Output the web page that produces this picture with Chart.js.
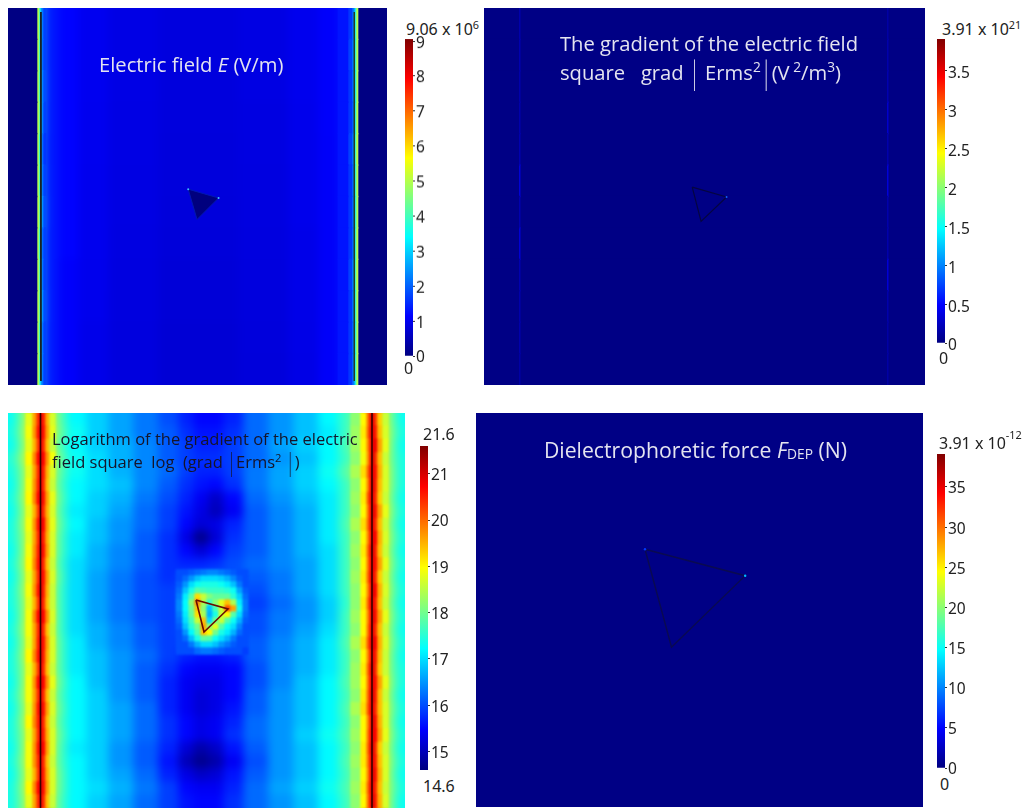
<!DOCTYPE html>
<html><head><meta charset="utf-8">
<script src="https://cdn.jsdelivr.net/npm/chart.js@4"></script>
<style>
html,body{margin:0;padding:0;background:#fff;width:1029px;height:808px;overflow:hidden}
.p{position:absolute;overflow:hidden}
.p canvas{position:absolute}
canvas.cb{position:absolute}
.t{position:absolute;white-space:pre;font-family:"Open Sans",sans-serif;line-height:1}
.w{color:#e4e4f0;font-size:20.2px}
.k{color:#15152a;font-size:16.5px}
.n{color:#222;font-family:"Noto Sans",sans-serif;font-size:16px}
sup{font-size:.68em;line-height:0;vertical-align:.55em}
sub{font-size:.65em;line-height:0;vertical-align:-.1em}
.hi{vertical-align:.95em}
.bar{display:inline-block;transform:scaleY(1.5);font-weight:300}
</style></head><body>
<div class="p" id="pA" style="left:8px;top:8px;width:379px;height:377px;background:#00008a"></div>
<div class="p" id="pB" style="left:484px;top:8px;width:441px;height:377px;background:#00008a"></div>
<div class="p" id="pC" style="left:8px;top:413px;width:397px;height:395px;background:#0aa0ff"></div>
<div class="p" id="pD" style="left:476px;top:413px;width:447px;height:394px;background:#00008a"></div>

<div class="t w" style="left:99px;top:54px">Electric field <i>E</i> (V/m)</div>
<div class="t w" style="left:560px;top:33px">The gradient of the electric field</div>
<div class="t w" style="left:560px;top:62px">square   grad <span class="bar">|</span> Erms<sup>2</sup><span class="bar">|</span>(V<sup> 2</sup>/m<sup>3</sup>)</div>
<div class="t k" style="left:52px;top:431px">Logarithm of the gradient of the electric</div>
<div class="t k" style="left:52px;top:454px">field square  log  (grad <span class="bar">|</span>Erms<sup>2</sup> <span class="bar">|</span>)</div>
<div class="t w" style="left:544px;top:439px;font-size:21.2px">Dielectrophoretic force <i>F</i><sub>DEP</sub> (N)</div>

<div class="t n" style="left:406px;top:21px">9.06 x 10<sup>6</sup></div>
<div class="t n" style="left:404px;top:360px">0</div>
<div class="t n" style="left:942px;top:21px">3.91 x 10<sup>21</sup></div>
<div class="t n" style="left:939px;top:350px">0</div>
<div class="t n" style="left:423px;top:426px">21.6</div>
<div class="t n" style="left:423px;top:778px">14.6</div>
<div class="t n" style="left:939px;top:435px">3.91 x 10<sup class="hi">-12</sup></div>
<div class="t n" style="left:940px;top:776px">0</div>

<script>
// ---------- Panel A: electric field E (units of 10^6 V/m)
const E_MAX = 9.06;
const E_TICKS = [0,1,2,3,4,5,6,7,8,9];
const E_EDGES = [-14,29,30,31,32,33,35,38,50,70,100,150,230,280,310,330,340,344,346,347,348,349,350,393];
const E_GRID = [
[.03,5,4.9,3.7,2.9,2.2,1.7,1.35,1.15,1.0,.9,.84,.88,.98,1.1,1.3,1.6,2.2,2.9,3.9,5.0,5,.03],
[.03,5,4.8,3.6,2.8,2.1,1.7,1.35,1.15,1.0,.9,.84,.88,.98,1.1,1.3,1.7,2.3,3.0,4.0,4.9,5,.03],
[.03,5,4.7,3.7,3.0,2.3,1.8,1.35,1.15,1.0,.9,.83,.88,.98,1.1,1.3,1.6,2.2,2.8,3.8,4.8,5,.03],
[.03,5,4.9,3.9,3.1,2.3,1.7,1.35,1.15,.99,.89,.83,.87,.96,1.1,1.3,1.6,2.1,2.9,3.9,5.0,5,.03],
[.03,5,4.7,3.5,2.8,2.1,1.6,1.35,1.15,.99,.89,.82,.87,.96,1.08,1.3,1.7,2.3,3.1,4.1,5.1,5,.03],
[.03,5,4.8,3.7,2.9,2.2,1.7,1.35,1.15,.98,.88,.82,.86,.96,1.08,1.3,1.6,2.2,3.0,4.0,4.9,5,.03],
[.03,5,5.0,3.9,3.2,2.4,1.8,1.35,1.15,.98,.88,.81,.86,.96,1.08,1.3,1.6,2.2,2.9,3.9,4.8,5,.03],
[.03,5,4.7,3.6,2.8,2.1,1.7,1.35,1.15,.98,.87,.80,.85,.94,1.08,1.3,1.6,2.2,2.9,4.0,5.0,5,.03],
[.03,5,4.8,3.8,3.0,2.2,1.7,1.35,1.1,.97,.86,.79,.84,.94,1.08,1.3,1.7,2.4,3.1,4.2,5.1,5,.03],
[.03,5,4.9,3.9,3.2,2.4,1.8,1.35,1.1,.97,.85,.78,.83,.93,1.08,1.3,1.6,2.3,3.0,4.0,4.9,5,.03],
[.03,5,4.7,3.6,2.9,2.2,1.7,1.35,1.1,.95,.84,.76,.82,.92,1.08,1.3,1.6,2.2,2.9,3.9,4.8,5,.03],
[.03,5,4.8,3.7,2.9,2.2,1.7,1.35,1.1,.95,.84,.76,.81,.91,1.08,1.3,1.6,2.2,2.9,3.9,4.9,5,.03]
];
const E_TRIANGLE = [{x:180,y:181},{x:211,y:190},{x:189,y:212},{x:180,y:181}];
const E_SPOTS = [{x:180,y:181},{x:211,y:190}];
const E_WALLS = [[{x:29.5,y:0},{x:29.5,y:377}],[{x:349.7,y:0},{x:349.7,y:377}]];

// ---------- Panel B: gradient of E^2 (units of 10^21 V^2/m^3)
const G_MAX = 3.91;
const G_TICKS = [0,.5,1,1.5,2,2.5,3,3.5];
const G_EDGES = [0,35,36,403,404,441];
const G_GRID = [
[.02,.24,.02,.2,.02],[.02,.26,.02,.24,.02],[.02,.24,.02,.26,.02],[.02,.24,.02,.42,.02],
[.02,.26,.02,.24,.02],[.02,.5,.02,.5,.02],[.02,.26,.02,.24,.02],[.02,.48,.02,.24,.02],
[.02,.26,.02,.48,.02],[.02,.24,.02,.24,.02],[.02,.24,.02,.2,.02],[.02,.2,.02,.2,.02]
];
const G_TRIANGLE = [{x:208,y:179},{x:243,y:189},{x:217,y:214},{x:208,y:179}];
const G_SPOTS = [{x:243,y:189}];

// ---------- Panel C: log10 of gradient of E^2
const L_MIN = 14.6, L_MAX = 21.6;
const L_TICKS = [15,16,17,18,19,20,21];
const L_EDGES = [-14,9,18,24,28,31,34,37,41,47,58,78,100,125,150,170,185,200,215,235,260,285,310,330,343,352,358,361,363,366,369,374,380,388,411];
const L_GRID = [
[17.3,18.0,18.8,19.6,20.4,20.9,20.5,19.5,18.7,17.8,17.2,16.9,16.6,16.3,16.0,15.7,15.5,15.5,15.7,16.2,16.5,16.8,17.2,17.6,18.2,19.0,19.9,20.7,20.9,20.3,19.3,18.6,17.9,17.3],
[17.4,18.1,18.9,19.7,20.6,21.0,20.6,19.6,18.8,17.9,17.3,16.9,16.6,16.3,16.1,15.8,15.6,15.6,15.8,16.2,16.5,16.8,17.1,17.6,18.3,19.1,20.0,20.8,20.9,20.5,19.4,18.7,18.0,17.4],
[17.3,18.0,18.8,19.5,20.3,20.9,20.4,19.4,18.6,17.7,17.2,16.9,16.7,16.4,16.1,15.9,15.7,15.7,15.9,16.2,16.6,16.9,17.2,17.7,18.3,19.0,19.8,20.6,20.9,20.8,19.6,18.8,17.9,17.3],
[17.5,18.2,19.0,19.8,20.7,21.0,20.7,19.7,18.9,17.9,17.3,17.0,16.7,16.4,16.1,15.9,15.8,15.8,15.9,16.2,16.5,16.8,17.2,17.6,18.2,18.9,19.7,20.6,21.0,20.4,19.4,18.6,17.9,17.4],
[17.4,18.0,18.8,19.6,20.4,20.9,20.5,19.5,18.7,17.8,17.3,17.0,16.7,16.4,16.2,15.9,15.7,15.7,15.9,16.3,16.6,16.9,17.3,17.8,18.4,19.2,20.0,20.8,20.9,20.6,19.5,18.7,18.0,17.4],
[17.3,18.0,18.9,19.7,20.5,20.9,20.4,19.4,18.6,17.7,17.2,17.0,16.8,16.4,16.1,15.8,15.6,15.5,15.8,16.3,16.6,16.9,17.2,17.6,18.2,19.0,19.8,20.7,21.0,20.5,19.4,18.7,18.0,17.4],
[17.4,18.1,19.0,19.8,20.7,21.0,20.6,19.6,18.8,17.8,17.2,16.9,16.7,16.3,16.0,15.7,15.4,15.1,15.5,16.2,16.5,16.8,17.1,17.6,18.3,19.1,20.1,20.8,20.9,20.4,19.3,18.6,17.9,17.3],
[17.3,18.0,18.8,19.5,20.3,20.9,20.4,19.5,18.7,17.7,17.1,16.9,16.6,16.2,15.9,15.6,15.3,15.0,15.4,16.1,16.4,16.7,17.1,17.6,18.2,19.0,19.9,20.7,21.0,20.6,19.6,18.8,18.0,17.4],
[17.4,18.1,18.9,19.7,20.6,21.0,20.7,19.6,18.8,17.8,17.2,16.8,16.5,16.2,15.9,15.5,15.2,15.3,15.7,16.1,16.4,16.7,17.1,17.7,18.4,19.2,20.0,20.8,20.9,20.4,19.4,18.6,17.9,17.3],
[17.4,18.0,18.8,19.6,20.4,20.9,20.5,19.5,18.7,17.7,17.1,16.8,16.5,16.1,15.8,15.3,14.7,15.2,15.8,16.1,16.4,16.7,17.1,17.6,18.2,19.0,19.8,20.6,20.9,20.7,19.5,18.7,18.0,17.4],
[17.3,18.0,18.9,19.7,20.5,21.0,20.6,19.6,18.7,17.7,17.1,16.7,16.4,16.1,15.8,15.5,15.2,15.5,15.9,16.1,16.4,16.7,17.0,17.6,18.3,19.1,20.0,20.8,21.0,20.5,19.4,18.6,17.9,17.3],
[17.4,18.1,19.0,19.8,20.6,20.9,20.4,19.4,18.6,17.6,17.0,16.7,16.4,16.1,15.8,15.7,15.7,15.8,16.0,16.2,16.4,16.6,17.0,17.6,18.2,19.0,19.9,20.7,20.9,20.6,19.6,18.8,18.0,17.4],
[17.3,18.0,18.8,19.6,20.4,20.9,20.6,19.6,18.7,17.7,17.0,16.6,16.3,16.0,15.8,16.0,16.1,16.1,16.0,16.1,16.3,16.6,17.0,17.6,18.3,19.1,20.0,20.8,20.9,20.4,19.3,18.6,17.9,17.3],
[17.4,18.1,18.9,19.7,20.6,21.0,20.5,19.5,18.6,17.6,17.0,16.6,16.3,16.0,15.9,16.0,16.2,16.2,16.1,16.0,16.3,16.6,17.0,17.6,18.2,19.0,19.8,20.6,21.0,20.7,19.5,18.7,18.0,17.4],
[17.4,18.0,18.8,19.5,20.3,20.9,20.4,19.4,18.6,17.6,17.0,16.6,16.3,16.0,15.9,16.0,16.2,16.2,16.1,15.9,16.2,16.5,16.9,17.5,18.2,19.1,20.0,20.8,20.9,20.5,19.4,18.6,17.9,17.3],
[17.3,18.0,18.9,19.8,20.7,21.0,20.7,19.7,18.7,17.6,17.0,16.6,16.3,16.0,15.9,16.0,16.2,16.2,16.1,16.0,16.3,16.5,16.9,17.6,18.3,19.0,19.8,20.6,21.0,20.6,19.6,18.8,18.0,17.4],
[17.4,18.1,18.9,19.6,20.4,20.9,20.4,19.4,18.6,17.6,17.0,16.7,16.4,16.1,15.9,16.0,16.1,16.1,16.0,16.0,16.3,16.6,17.0,17.6,18.2,19.0,19.9,20.7,20.9,20.4,19.4,18.6,17.9,17.3],
[17.3,18.0,18.8,19.6,20.5,20.9,20.6,19.6,18.7,17.7,17.1,16.7,16.4,16.1,15.9,15.9,16.0,16.0,16.0,16.1,16.4,16.7,17.1,17.7,18.4,19.2,20.1,20.8,21.0,20.7,19.5,18.7,18.0,17.4],
[17.4,18.1,19.0,19.8,20.6,21.0,20.5,19.5,18.7,17.7,17.1,16.8,16.5,16.2,15.9,15.7,15.6,15.6,15.7,16.1,16.4,16.7,17.1,17.6,18.2,19.0,19.8,20.6,20.9,20.5,19.4,18.6,17.9,17.3],
[17.4,18.0,18.8,19.5,20.3,20.9,20.4,19.4,18.6,17.7,17.1,16.8,16.5,16.1,15.8,15.5,15.4,15.4,15.5,16.0,16.4,16.7,17.1,17.6,18.3,19.1,20.0,20.8,21.0,20.4,19.3,18.6,17.9,17.4],
[17.3,18.0,18.9,19.7,20.7,21.0,20.7,19.7,18.8,17.8,17.2,16.8,16.5,16.1,15.7,15.4,15.3,15.3,15.5,16.0,16.4,16.8,17.2,17.7,18.3,19.0,19.9,20.7,20.9,20.6,19.6,18.8,18.0,17.4],
[17.4,18.1,18.9,19.6,20.4,20.9,20.4,19.4,18.6,17.7,17.2,16.9,16.5,16.1,15.7,15.4,15.2,15.3,15.5,16.1,16.5,16.8,17.2,17.6,18.2,19.1,20.0,20.8,21.0,20.5,19.4,18.6,17.9,17.3],
[17.3,18.0,18.8,19.7,20.6,21.0,20.6,19.6,18.7,17.8,17.2,16.9,16.6,16.2,15.7,15.4,15.2,15.3,15.6,16.1,16.5,16.8,17.2,17.7,18.4,19.2,20.1,20.8,20.9,20.4,19.4,18.7,18.0,17.4],
[17.4,18.1,19.0,19.8,20.5,20.9,20.4,19.4,18.6,17.7,17.2,16.9,16.6,16.2,15.8,15.5,15.3,15.4,15.7,16.2,16.5,16.8,17.2,17.6,18.2,19.0,19.8,20.6,21.0,20.6,19.5,18.7,17.9,17.3],
[17.4,18.0,18.8,19.6,20.4,20.9,20.5,19.5,18.7,17.8,17.2,16.9,16.6,16.2,15.8,15.5,15.3,15.4,15.8,16.2,16.5,16.9,17.3,17.7,18.3,19.0,19.9,20.7,20.9,20.7,19.6,18.8,18.0,17.4],
[17.3,18.0,18.9,19.7,20.6,21.0,20.7,19.6,18.7,17.7,17.1,16.9,16.5,16.1,15.7,15.2,14.9,15.1,15.6,16.1,16.5,16.8,17.2,17.6,18.2,19.1,20.0,20.8,21.0,20.4,19.3,18.6,17.9,17.3],
[17.4,18.1,18.9,19.7,20.4,20.9,20.4,19.4,18.6,17.7,17.2,16.9,16.5,16.1,15.6,15.0,14.7,14.9,15.4,16.0,16.5,16.8,17.2,17.7,18.3,19.1,19.9,20.7,20.9,20.5,19.4,18.7,18.0,17.4],
[17.3,18.0,18.8,19.5,20.3,20.9,20.5,19.5,18.7,17.8,17.2,16.9,16.6,16.2,15.7,15.3,15.1,15.2,15.6,16.1,16.5,16.8,17.2,17.6,18.2,19.0,19.8,20.7,21.0,20.6,19.5,18.7,17.9,17.3],
[17.4,18.1,19.0,19.8,20.7,21.0,20.6,19.6,18.7,17.8,17.2,17.0,16.7,16.3,15.9,15.5,15.4,15.4,15.7,16.2,16.6,16.9,17.3,17.7,18.3,19.1,20.0,20.8,20.9,20.4,19.4,18.6,18.0,17.4],
[17.4,18.0,18.8,19.6,20.4,20.9,20.4,19.4,18.6,17.7,17.2,16.9,16.6,16.2,15.9,15.6,15.5,15.5,15.8,16.2,16.5,16.8,17.2,17.6,18.2,19.0,19.9,20.7,21.0,20.5,19.5,18.7,17.9,17.3]
];
// finer cells around the triangle
const L_HALO_EDGES = [168,174,180,186,192,198,204,210,216,222,228,234,240];
const L_HALO_TOP = 157;
const L_HALO_ROW = 6;
const L_HALO = [
[16.0,16.0,16.1,16.2,16.3,16.4,16.4,16.3,16.2,16.1,16.0,16.0],
[16.0,16.2,16.5,16.8,17.0,17.0,17.0,16.9,16.7,16.4,16.1,16.0],
[16.1,16.5,17.0,17.3,17.4,17.4,17.4,17.3,17.1,16.8,16.3,16.0],
[16.2,16.8,17.4,17.8,17.7,17.6,17.6,17.6,17.5,17.3,16.6,16.1],
[16.3,17.1,17.8,19.2,18.6,18.1,17.9,17.9,17.9,17.5,16.9,16.2],
[16.4,17.2,18.2,19.8,18.4,17.6,18.2,18.8,19.4,18.4,17.1,16.3],
[16.4,17.2,18.0,19.4,18.2,16.8,17.7,18.6,20.2,19.6,17.3,16.3],
[16.3,17.1,17.9,19.2,18.4,16.7,17.4,18.6,19.0,17.8,17.0,16.2],
[16.2,17.0,17.7,18.6,19.4,17.0,18.0,18.6,17.8,17.3,16.7,16.1],
[16.1,16.8,17.5,18.0,19.6,18.2,18.8,17.8,17.3,17.0,16.4,16.0],
[16.0,16.5,17.2,17.8,19.4,19.0,18.0,17.4,17.1,16.7,16.2,16.0],
[16.0,16.2,16.8,17.4,17.9,17.8,17.3,17.0,16.7,16.3,16.0,16.0],
[16.0,16.0,16.3,16.7,17.0,17.0,16.8,16.5,16.3,16.1,16.0,16.0],
[16.0,16.0,16.0,16.2,16.3,16.3,16.2,16.1,16.0,16.0,16.0,15.9]
];
const L_TRIANGLE = [{x:188,y:187},{x:220,y:196},{x:196,y:219},{x:188,y:187}];
const L_WALLS = [[{x:32.5,y:0},{x:32.5,y:395}],[{x:364,y:0},{x:364,y:395}]];

// ---------- Panel D: dielectrophoretic force (units of 10^-13 N)
const F_MAX = 39.1;
const F_TICKS = [0,5,10,15,20,25,30,35];
const F_EDGES = [0,447];
const F_GRID = [[.2]];
const F_TRIANGLE = [{x:168,y:135},{x:270,y:162},{x:195,y:235},{x:168,y:135}];
const F_SPOTS = [{x:168,y:135,v:7},{x:270,y:162,v:12}];

Chart.defaults.animation = false;
Chart.defaults.responsive = false;
Chart.defaults.plugins.legend.display = false;
Chart.defaults.plugins.tooltip.enabled = false;

function jet(t){
  const c = v => Math.round(255*Math.max(0,Math.min(1,v)));
  return `rgb(${c(1.5-Math.abs(4*t-3))},${c(1.5-Math.abs(4*t-2))},${c(1.5-Math.abs(4*t-1))})`;
}
function gridDatasets(edges,grid,top,rowH,lo,hi,order){
  const out=[];
  for(let j=0;j<edges.length-1;j++){
    out.push({
      type:'bar',indexAxis:'y',order,grouped:false,
      barThickness:rowH+0.7,categoryPercentage:1,barPercentage:1,
      data:grid.map((r,i)=>({x:[edges[j],edges[j+1]],y:top+(i+0.5)*rowH})),
      backgroundColor:grid.map(r=>jet((r[j]-lo)/(hi-lo)))
    });
  }
  return out;
}
// repeats the first and last rows past the clipped panel edge so a blur does not fade there
function padded(grid){return [grid[0],...grid,grid[grid.length-1]];}
function subset(edges,grid,a,b){
  return {edges:edges.slice(a,b+1),grid:grid.map(r=>r.slice(a,b))};
}
function area(parent,w,h,blur,ext){
  const c=document.createElement('canvas');
  const W=w+2*ext,H=h+2*ext;
  c.width=W;c.height=H;
  c.style.cssText=`left:${-ext}px;top:${-ext}px;width:${W}px;height:${H}px;`+(blur?`filter:blur(${blur}px);`:'');
  document.getElementById(parent).appendChild(c);
  return c;
}
function scales(w,h,ext){
  return {
    x:{type:'linear',min:-ext,max:w+ext,display:false,offset:false},
    y:{type:'linear',min:-ext,max:h+ext,reverse:true,display:false,offset:false}
  };
}
function heat(parent,w,h,blur,ext,datasets){
  new Chart(area(parent,w,h,blur,ext),{
    type:'bar',data:{datasets},
    options:{indexAxis:'y',maintainAspectRatio:false,layout:{padding:0},scales:scales(w,h,ext)}
  });
}
function overlay(parent,w,h,datasets){
  new Chart(area(parent,w,h,0,0),{
    type:'scatter',data:{datasets},
    options:{maintainAspectRatio:false,layout:{padding:0},scales:scales(w,h,0)}
  });
}
function line(points,color,width,fill){
  return {showLine:true,data:points,borderColor:color,borderWidth:width,pointRadius:0,fill:fill?'shape':false,backgroundColor:fill||'transparent',tension:0};
}
function spots(points,color,r){
  return {data:points,backgroundColor:color,borderWidth:0,pointRadius:r};
}
function colorbar(left,top,bottom,lo,hi,ticks,off){
  const pad=14,cw=70,bw=8;
  const c=document.createElement('canvas');
  const h=bottom-top+2*pad;
  c.width=cw;c.height=h;c.className='cb';
  c.style.cssText=`left:${left}px;top:${top-pad}px;width:${cw}px;height:${h}px;position:absolute`;
  document.body.appendChild(c);
  new Chart(c,{
    type:'bar',
    data:{labels:['scale'],datasets:[{
      data:[[lo,hi]],categoryPercentage:1,barPercentage:1,
      backgroundColor(ctx){
        const ch=ctx.chart,s=ch.scales.y;
        if(!s||!ch.chartArea)return jet(0);
        const g=ch.ctx.createLinearGradient(0,s.getPixelForValue(lo),0,s.getPixelForValue(hi));
        [0,.125,.375,.625,.875,1].forEach(p=>g.addColorStop(p,jet(p)));
        return g;
      }
    }]},
    options:{
      maintainAspectRatio:false,layout:{padding:{top:pad,bottom:pad,left:0,right:0}},
      scales:{
        x:{display:false},
        y:{position:'right',min:lo,max:hi,
           afterBuildTicks(s){s.ticks=ticks.map(v=>({value:v}))},
           afterFit(s){s.width=cw-bw},
           border:{display:false},
           grid:{drawOnChartArea:false,drawTicks:true,tickLength:2,tickColor:'#333'},
           ticks:{autoSkip:false,maxRotation:0,padding:1,labelOffset:off,color:'#222',font:{family:'"Noto Sans",sans-serif',size:15.5},callback:v=>String(v)}
        }
      }
    }
  });
}

// Panel A: smooth interior, crisp walls
const eRow = 377/E_GRID.length;
heat('pA',379,377,4,14,gridDatasets(E_EDGES,padded(E_GRID),-eRow,eRow,0,E_MAX,1));
const eLeft = subset(E_EDGES,E_GRID,0,7), eRight = subset(E_EDGES,E_GRID,15,23);
heat('pA',379,377,0.5,0,
  gridDatasets(eLeft.edges,eLeft.grid,0,eRow,0,E_MAX,1)
  .concat(gridDatasets(eRight.edges,eRight.grid,0,eRow,0,E_MAX,1)));
overlay('pA',379,377,[
  spots(E_SPOTS,'#40c0ff',1),
  line(E_TRIANGLE,'#0018b0',1,'#00007e'),
  line(E_WALLS[0],'#1a1a10',1),
  line(E_WALLS[1],'#2a3a20',1)
]);
colorbar(405,39,355.5,0,E_MAX,E_TICKS,2);

// Panel B
heat('pB',441,377,0.5,0,gridDatasets(G_EDGES,G_GRID,0,377/G_GRID.length,0,G_MAX,1));
overlay('pB',441,377,[
  spots(G_SPOTS,'#1060ff',1),
  line(G_TRIANGLE,'#050540',1.2)
]);
colorbar(937,39,343,0,G_MAX,G_TICKS,3);

// Panel C: smooth interior, sharper band round each wall and round the triangle
const lRow = 395/L_GRID.length;
heat('pC',397,395,4,14,gridDatasets(L_EDGES,padded(L_GRID),-lRow,lRow,L_MIN,L_MAX,1));
const lLeft = subset(L_EDGES,L_GRID,2,9), lRight = subset(L_EDGES,L_GRID,24,32);
heat('pC',397,395,1,0,
  gridDatasets(L_HALO_EDGES,L_HALO,L_HALO_TOP,L_HALO_ROW,L_MIN,L_MAX,0)
  .concat(gridDatasets(lLeft.edges,lLeft.grid,0,lRow,L_MIN,L_MAX,1))
  .concat(gridDatasets(lRight.edges,lRight.grid,0,lRow,L_MIN,L_MAX,1)));
overlay('pC',397,395,[
  line(L_TRIANGLE,'#6a0a00',1.6),
  line(L_WALLS[0],'#3a0000',1.6),
  line(L_WALLS[1],'#3a0000',1.6)
]);
colorbar(420,446,770,L_MIN,L_MAX,L_TICKS,2);

// Panel D
heat('pD',447,394,0,0,gridDatasets(F_EDGES,F_GRID,0,394,0,F_MAX,1));
overlay('pD',447,394,[
  spots(F_SPOTS,F_SPOTS.map(s=>jet(s.v/F_MAX)),1.2),
  line(F_TRIANGLE,'#0a0a50',1.4)
]);
colorbar(937,454,768,0,F_MAX,F_TICKS,2);
</script>
</body></html>
